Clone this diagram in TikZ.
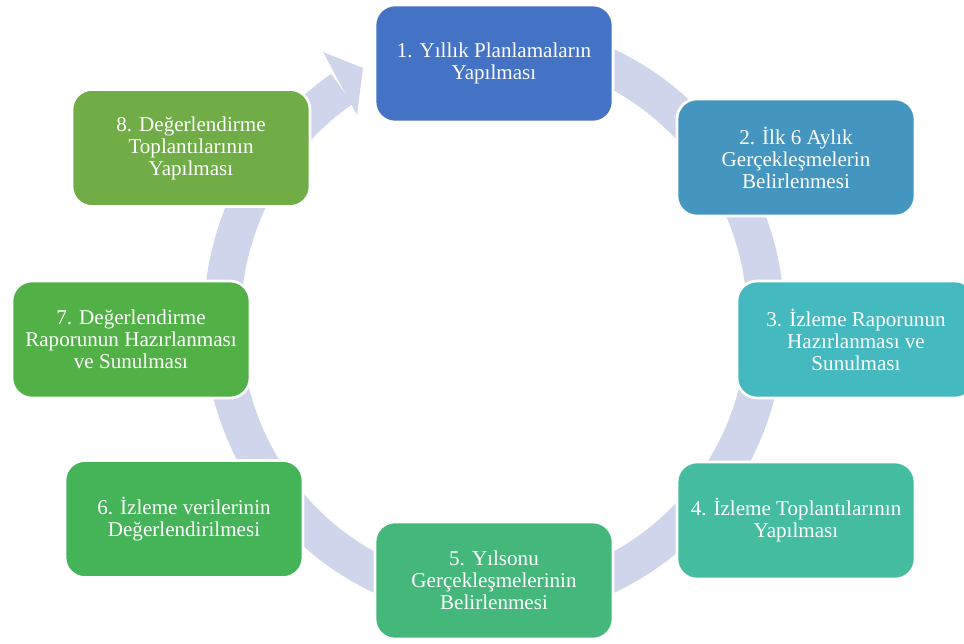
\documentclass[tikz,border=0pt]{standalone}
\usepackage{fontspec}
\setmainfont{Liberation Serif}
\definecolor{ringcol}{HTML}{CFD5EA}
\definecolor{stepa}{HTML}{4472C4}
\definecolor{stepb}{HTML}{4496C1}
\definecolor{stepc}{HTML}{44B9BF}
\definecolor{stepd}{HTML}{43BCA0}
\definecolor{stepe}{HTML}{44B87B}
\definecolor{stepf}{HTML}{45B459}
\definecolor{stepg}{HTML}{52B146}
\definecolor{steph}{HTML}{70AD47}
\begin{document}
\begin{tikzpicture}[x=0.02cm,y=-0.02cm,
    stage/.style={draw=white,line width=1.5pt,rounded corners=0.4cm,
        minimum width=4.76cm,minimum height=2.34cm,inner sep=0pt,
        align=center,text=white,font=\fontsize{12}{12.5}\selectfont}]
    \useasboundingbox (0,0) rectangle (964,643);
    % ring arrow behind the stages
    \draw[ringcol,line width=0.74cm] plot[domain=-80:236,samples=150]
        ({494+272*cos(\x)},{321+280*sin(\x)});
    \fill[ringcol] (323,52) -- (363,68) -- (357,115) -- cycle;
    % stages
    \node[stage,fill=stepa] (plan) at (494,63.5) {1. Yıllık Planlamaların\\Yapılması};
    \node[stage,fill=stepb] (ilkalti) at (796,157.5) {2. İlk 6 Aylık\\Gerçekleşmelerin\\Belirlenmesi};
    \node[stage,fill=stepc] (izrapor) at (856,339.5) {3. İzleme Raporunun\\Hazırlanması ve\\Sunulması};
    \node[stage,fill=stepd] (iztop) at (796,520.5) {4. İzleme Toplantılarının\\Yapılması};
    \node[stage,fill=stepe] (yilsonu) at (494,580.5) {5. Yılsonu\\Gerçekleşmelerinin\\Belirlenmesi};
    \node[stage,fill=stepf] (izveri) at (184,519) {6. İzleme verilerinin\\Değerlendirilmesi};
    \node[stage,fill=stepg] (degrapor) at (131,339.5) {7. Değerlendirme\\Raporunun Hazırlanması\\ve Sunulması};
    \node[stage,fill=steph] (degtop) at (191,148) {8. Değerlendirme\\Toplantılarının\\Yapılması};
\end{tikzpicture}
\end{document}
